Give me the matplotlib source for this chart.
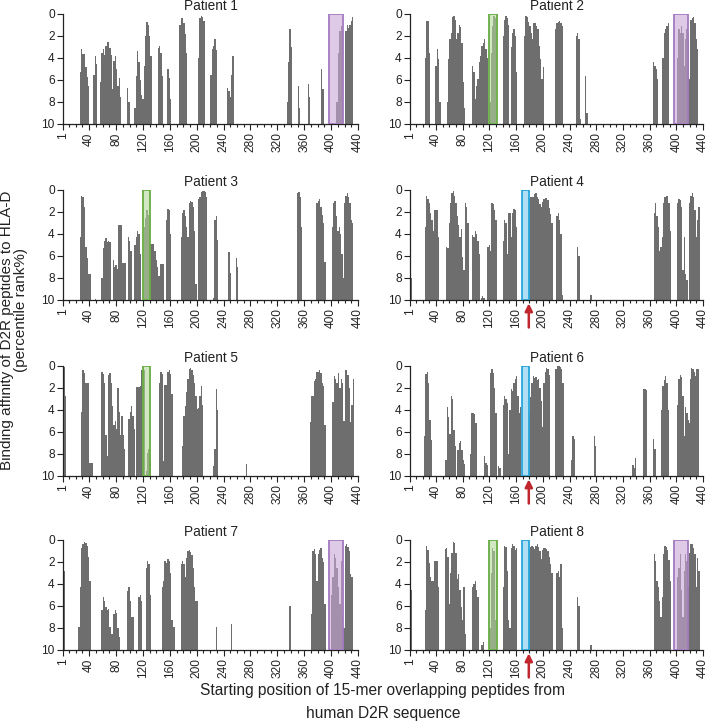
import numpy as np
import matplotlib
matplotlib.use("Agg")
import matplotlib.pyplot as plt
from matplotlib.patches import Rectangle

plt.rcParams['font.family'] = ['Liberation Sans', 'DejaVu Sans']

# 每个患者: (起始位置, [每隔2个残基的 percentile rank 值])
p1 = [
    (27, [5.3, 3.2, 3.6, 3.6, 4.8, 5.7, 6.5]),
    (47, [5.5, 3.8, 4.5]),
    (57, [6.2, 3.5, 3.2, 3.7, 2.9, 2.5, 2.5, 3.1, 3.7, 6.8, 4.3, 3.8, 5.0]),
    (83, [6.5, 5.8, 7.5]),
    (97, [6.7, 8.0]),
    (108, [8.5, 5.6, 3.4, 4.4, 6.0]),
    (118, [7.4, 7.7]),
    (122, [4.7, 2.0, 0.7, 1.0, 2.0, 3.8]),
    (143, [3.1, 2.9, 3.5, 5.6]),
    (157, [5.0, 5.8, 7.7]),
    (175, [1.0, 0.4, 0.4, 0.8, 1.8, 3.5]),
    (203, [4.0, 0.4, 0.2, 0.3, 0.6]),
    (221, [5.5, 3.2, 2.9, 2.3, 3.3]),
    (246, [6.7, 7.0, 7.5, 5.5, 3.8]),
    (335, [8.0, 4.4, 1.4, 3.0]),
    (351, [6.5, 8.5]),
    (366, [6.4, 7.5]),
    (386, [5.0, 6.8]),
    (409, [8.0, 3.5, 1.5, 1.1, 1.5]),
    (422, [1.5, 1.0, 1.3, 1.0, 0.6, 0.3]),
]
p2 = [
    (24, [4.0, 0.6, 0.6, 3.5]),
    (40, [4.7, 3.2, 4.1, 8.0]),
    (57, [8.0, 4.1, 2.3, 1.7, 0.3, 0.2, 0.5, 2.3, 1.7, 1.0, 1.2, 2.6, 6.2, 8.5]),
    (95, [4.7, 5.3, 7.7, 6.5]),
    (103, [5.9, 4.4, 3.8, 2.9, 2.6, 2.3, 3.2, 4.0]),
    (121, [8.0, 3.5, 1.1, 0.2, 0.4]),
    (141, [2.0, 0.5, 0.2, 0.4, 1.0]),
    (153, [3.0, 1.7, 1.4, 2.0, 5.3]),
    (173, [2.0, 0.2, 0.3, 0.7, 1.1, 1.7, 2.3, 0.8, 0.8, 1.1, 1.4, 2.9, 4.1]),
    (199, [5.9, 4.8]),
    (219, [1.4, 0.8, 0.7, 0.6, 0.8, 1.1]),
    (250, [2.0, 1.7, 2.3, 9.5]),
    (264, [5.6, 9.0]),
    (366, [4.4, 4.7, 5.0, 5.9]),
    (380, [4.0, 1.7, 1.4, 1.1, 0.8]),
    (402, [4.0, 1.4, 1.7, 1.1, 1.7, 4.7, 2.3, 1.4, 1.7, 5.9, 0.5, 0.4, 0.3, 0.8, 2.3, 3.2]),
]
p3 = [
    (27, [4.3, 0.5, 0.6, 1.5, 5.2, 6.2, 7.6, 7.6]),
    (49, [9.9]),
    (59, [8.0, 5.3, 4.6, 4.4, 4.7, 4.6, 4.7]),
    (76, [6.4, 7.0, 6.8, 7.2]),
    (84, [3.2, 3.2, 3.2]),
    (90, [6.6, 6.6, 6.6]),
    (98, [4.3, 4.6, 5.5]),
    (108, [5.0, 4.3, 3.7, 4.0, 5.8]),
    (122, [3.4, 2.5, 1.8, 2.3, 3.0]),
    (132, [4.9, 4.9, 4.9, 5.5]),
    (140, [6.4, 7.0, 7.8]),
    (147, [6.7, 6.7, 6.7]),
    (155, [2.7, 1.7, 1.8, 4.0]),
    (177, [4.3, 2.1, 1.8, 2.4, 3.4, 4.3, 1.2, 1.0, 1.1, 1.5, 3.7, 8.5]),
    (203, [0.8, 0.6, 0.2, 0.1, 0.1, 0.2, 0.6]),
    (225, [9.8, 2.7, 2.4, 4.5]),
    (248, [5.6, 7.5]),
    (259, [6.2, 7.0]),
    (350, [0.3, 0.2, 0.6, 3.4]),
    (379, [1.2, 1.0, 0.8, 1.5, 2.3, 3.0, 6.5]),
    (402, [3.4, 1.2, 1.0, 2.4, 3.7, 3.4, 4.0, 5.8, 8.0]),
    (420, [1.2, 0.5, 0.3, 0.6, 1.2, 2.7, 3.0]),
]
p4 = [
    (1, [7.6, 8.0]),
    (24, [3.4, 0.5, 0.8, 1.2, 2.1, 2.7, 3.7, 1.8, 1.8, 1.8, 4.3]),
    (56, [5.2, 5.3, 3.0, 1.2, 0.3, 0.1, 0.5, 1.2, 2.4, 3.2, 4.3, 3.5, 6.1, 7.3, 1.2, 1.5, 3.0]),
    (95, [4.1, 4.3, 3.7, 4.0, 4.6, 5.8]),
    (108, [9.8, 9.6, 9.8]),
    (118, [5.2, 5.0, 5.5, 1.2, 1.3, 1.8, 2.7]),
    (141, [4.6, 2.7, 3.0, 5.8, 2.1, 2.1, 4.3, 2.1, 1.7, 1.8, 3.4]),
    (180, [0.7, 0.6, 0.6, 0.6, 0.4, 0.3, 0.6, 0.8, 1.3, 1.5, 1.1, 0.8, 0.7, 0.7, 0.9, 1.6, 2.2, 3.0]),
    (221, [2.4, 2.1, 2.7, 4.0, 9.5]),
    (252, [5.2, 6.0]),
    (272, [9.5]),
    (367, [2.1, 1.2, 2.4, 3.4, 5.5, 5.2, 4.3, 1.2, 0.6, 0.5, 0.5, 1.2, 3.7]),
    (402, [1.2, 0.8, 0.9, 1.5, 7.3, 4.3, 7.6, 8.2]),
    (420, [1.2, 0.5, 0.3, 0.6, 1.8, 4.3, 2.7, 1.5]),
]
p5 = [
    (1, [0.0, 0.1, 2.7]),
    (29, [4.2, 0.4, 0.6, 1.5, 1.5, 1.5, 8.8, 8.8, 8.8]),
    (59, [0.5, 0.7, 1.5, 6.3, 8.2, 0.8, 0.6, 1.5, 3.6, 5.4, 5.0, 5.7, 2.0, 4.2, 6.3, 4.5, 6.3, 7.5]),
    (99, [4.8, 4.2, 3.6, 4.5, 5.7]),
    (110, [1.9, 1.9, 1.9, 1.8, 0.4, 0.4, 0.4]),
    (125, [9.5, 7.9, 7.5, 8.5]),
    (145, [1.5, 0.5, 0.7, 8.6, 1.7, 1.7, 0.5, 0.4, 0.7, 2.5]),
    (179, [7.3, 4.5, 3.6, 2.4, 1.2, 0.3, 0.2, 0.4, 0.8, 1.5, 2.7, 3.9, 3.8, 2.7, 1.8, 3.5]),
    (225, [9.1, 7.5, 2.1, 4.0]),
    (274, [8.9]),
    (369, [5.1, 2.7, 2.7, 1.4, 1.2, 0.5, 0.5, 0.4, 0.6, 1.5, 1.8, 5.4]),
    (403, [3.3, 0.9, 1.2, 1.5, 0.6, 2.0, 1.2, 1.5, 5.0, 0.4, 0.4, 0.8, 2.0, 5.1, 3.5, 1.2]),
]
p6 = [
    (23, [6.4, 0.7, 0.5, 1.5, 4.9, 6.7]),
    (55, [8.5, 3.7, 4.6, 6.2, 2.7, 3.0, 5.8, 7.3]),
    (73, [7.6, 7.0, 6.8, 7.6, 8.5, 8.9]),
    (92, [8.0, 4.3, 4.3, 4.4, 5.2]),
    (113, [8.2, 8.8, 9.0]),
    (122, [0.6, 0.3, 0.6, 2.0, 4.3]),
    (134, [9.1, 9.3]),
    (141, [3.5, 2.7, 3.0, 3.4]),
    (149, [8.0, 4.0, 2.1, 2.3, 1.5, 1.2, 0.9, 2.7, 4.3, 3.7]),
    (180, [4.3, 2.8, 1.5, 0.9, 1.1, 1.0, 1.3, 1.2, 2.0, 3.2, 5.5, 1.5, 0.5, 0.2, 0.3, 0.8]),
    (220, [0.3, 0.0, 0.0, 0.1, 0.3, 1.5]),
    (243, [8.5, 6.4, 6.6]),
    (277, [6.4, 7.3]),
    (335, [9.0, 9.3, 8.4]),
    (351, [2.1, 2.1, 2.2]),
    (366, [6.6, 7.5]),
    (378, [4.0, 1.8, 1.3, 0.9, 1.5, 4.0]),
    (402, [3.5, 1.2, 0.8, 1.0, 2.7, 6.4, 3.7, 4.3, 4.9, 5.2]),
    (421, [1.2, 0.2, 0.3, 0.5, 0.9, 0.3, 0.3]),
]
p7 = [
    (1, [0.1, 2.8]),
    (25, [7.9, 4.3, 0.7, 0.4, 0.2, 0.3, 0.5, 1.5, 3.7]),
    (59, [6.4, 5.2, 5.5, 6.1, 6.4, 6.3, 7.9, 8.5, 8.5, 6.7, 6.4, 6.6, 8.0, 8.8]),
    (97, [4.6, 4.3, 5.5, 7.0, 7.0]),
    (114, [5.2, 5.0, 5.5]),
    (125, [2.5, 1.9, 2.2, 5.0]),
    (149, [4.3, 3.7, 1.9, 2.1, 1.7, 1.9, 3.0, 7.3, 7.9, 7.9]),
    (177, [2.2, 1.9, 2.2, 3.4, 1.6, 1.0, 0.9, 1.1, 1.4, 2.5, 4.3, 5.5, 5.5]),
    (229, [7.9]),
    (252, [7.6]),
    (339, [6.0]),
    (371, [6.7, 1.0, 0.8, 1.3, 3.7, 1.3, 0.9, 0.7, 1.6, 2.0, 5.8]),
    (401, [5.0, 3.4, 1.3, 1.6, 2.5, 4.3, 5.8, 1.9, 6.7, 8.0, 0.5, 0.4, 0.6, 1.0, 3.1, 3.4]),
]
p8 = [
    (1, [4.0, 4.5]),
    (24, [6.4, 0.5, 0.9, 2.1, 3.4, 3.7, 3.7, 1.9, 1.9, 1.9, 4.3]),
    (54, [0.8, 0.7, 1.5, 5.8, 3.0, 1.2, 0.2, 0.3, 1.2, 3.5, 3.1, 4.5, 6.1, 7.3, 4.3, 8.5]),
    (95, [4.3, 4.0, 3.7, 4.5, 5.2]),
    (109, [9.5, 9.3]),
    (121, [8.0, 3.0, 0.7, 1.0, 7.3]),
    (141, [4.3, 0.5, 0.6, 2.8, 7.3, 8.0, 0.7, 0.4, 0.5, 0.9, 0.7]),
    (180, [0.8, 0.6, 0.5, 0.6, 0.8, 0.5, 0.4, 0.6, 1.0, 1.7, 0.9, 0.7, 0.7, 0.8, 1.0, 1.5, 2.2, 3.0]),
    (221, [3.0, 2.8, 3.4, 2.2, 8.0]),
    (252, [5.2, 6.0]),
    (272, [9.5]),
    (367, [1.3, 1.9, 3.7, 4.3, 5.5, 7.0, 5.2, 1.3, 0.5, 0.6, 0.9, 1.8, 3.7]),
    (402, [3.4, 2.5, 1.3, 4.5, 7.0, 2.8, 1.3, 1.9, 4.3]),
    (420, [1.2, 0.4, 0.4, 0.7, 1.3, 4.3, 1.6, 2.8]),
]

patients = [p1, p2, p3, p4, p5, p6, p7, p8]

# 高亮区域 (起, 止)
green_region = (120, 131)
blue_region = (169, 180)
purple_region = (397, 418)
arrow_pos = 179

highlights = {
    1: ['purple'], 2: ['green', 'purple'], 3: ['green'], 4: ['blue'],
    5: ['green'], 6: ['blue'], 7: ['purple'], 8: ['green', 'blue', 'purple'],
}
arrows = [4, 6, 8]

box_style = {
    'green': (green_region, '#b5d99c', '#6aad45'),
    'blue': (blue_region, '#7ccbec', '#2aa6dd'),
    'purple': (purple_region, '#c9a8d8', '#a47cbf'),
}

fig = plt.figure(figsize=(7.09, 7.27), dpi=100)

lefts = [63 / 709, 410 / 709]
widths = [295 / 709, 293 / 709]
tops_px = [14, 190, 366, 540]
h = 110 / 727

major = [1] + list(range(40, 441, 40))
minor = [m for m in range(10, 440, 10) if m % 40 != 0]

for i, data in enumerate(patients):
    row, col = divmod(i, 2)
    ax = fig.add_axes([lefts[col], 1 - (tops_px[row] + 110) / 727, widths[col], h])
    for start, vals in data:
        x = start + 2 * np.arange(len(vals))
        v = np.array(vals)
        ax.bar(x, v - 10, bottom=10, width=2, color='#6e6e6e', linewidth=0)
    for key in highlights[i + 1]:
        (a, b), fc, ec = box_style[key]
        ax.add_patch(Rectangle((a, 0), b - a, 10, facecolor=fc, edgecolor=ec,
                               alpha=0.6, linewidth=1.2, zorder=3))
        ax.add_patch(Rectangle((a, 0), b - a, 10, facecolor='none', edgecolor=ec,
                               linewidth=1.2, zorder=4))
    if (i + 1) in arrows:
        ax.annotate('', xy=(arrow_pos, 10.3), xytext=(arrow_pos, 12.5),
                    arrowprops=dict(arrowstyle='-|>', color='#c0272d', lw=1.8,
                                    mutation_scale=11, shrinkA=0, shrinkB=0),
                    annotation_clip=False, zorder=5)
    ax.set_xlim(1, 440)
    ax.set_ylim(10, 0)
    ax.set_yticks(range(0, 11, 2))
    ax.set_xticks(major)
    ax.set_xticks(minor, minor=True)
    ax.set_xticklabels([str(m) for m in major], rotation=90)
    ax.tick_params(axis='both', labelsize=8.6, length=4, width=0.8, pad=2, colors='#222222')
    ax.tick_params(axis='x', which='minor', length=2.5, width=0.8, colors='#222222')
    for s in ['top', 'right']:
        ax.spines[s].set_visible(False)
    for s in ['left', 'bottom']:
        ax.spines[s].set_linewidth(0.9)
        ax.spines[s].set_color('#222222')
    ax.set_title('Patient %d' % (i + 1), fontsize=9.8, pad=3, color='#222222')

fig.text(0.010, 0.545, 'Binding affinity of D2R peptides to HLA-D',
         rotation=90, ha='center', va='center', fontsize=11, color='#222222')
fig.text(0.029, 0.574, '(percentile rank%)',
         rotation=90, ha='center', va='center', fontsize=11, color='#222222')
fig.text(0.540, 0.050, 'Starting position of 15-mer overlapping peptides from',
         ha='center', va='center', fontsize=11.2, color='#222222')
fig.text(0.540, 0.018, 'human D2R sequence',
         ha='center', va='center', fontsize=11.2, color='#222222')

fig.savefig('out.png', dpi=100)
